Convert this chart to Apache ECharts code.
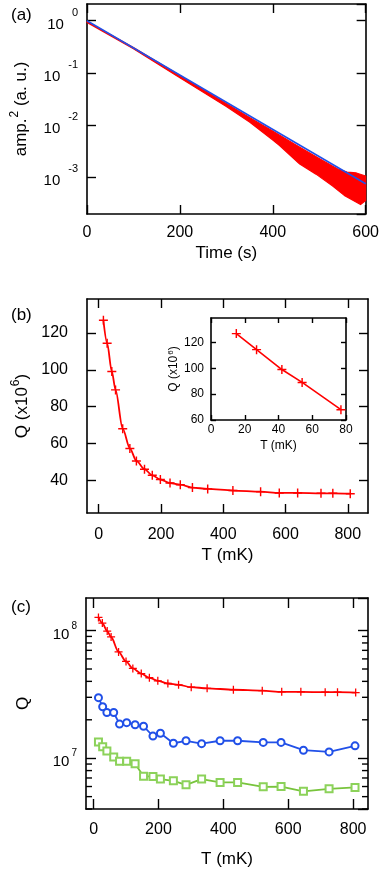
<!DOCTYPE html>
<html>
<head>
<meta charset="utf-8">
<script src="https://cdn.jsdelivr.net/npm/echarts@6/dist/echarts.min.js"></script>
<style>
  html, body { margin: 0; padding: 0; background: #fff; }
  #chart { width: 382px; height: 869px; }
</style>
</head>
<body>
<div id="chart"></div>
<script>
const fitTime = [0, 600];
const fitAmp = [1.0, 7.5e-4];
const traceUpperTime = [0, 100, 200, 300, 350, 400, 450, 500, 540, 560, 580, 600];
const traceUpper = [0.966, 0.307, 0.0891, 0.0259, 0.0140, 0.00771, 0.00416, 0.00229, 0.00144, 0.00126, 0.00121, 0.00106];
const traceLowerTime = [0, 100, 200, 300, 350, 400, 414, 458, 493, 529, 554, 589, 600];
const traceLower = [0.93, 0.29, 0.081, 0.0228, 0.0115, 0.0052, 0.0041, 0.0018, 0.00115, 0.00068, 0.00045, 0.0003, 0.00036];

// (b) Q vs T, red series (x10^6)
const tempRed = [15, 27, 42, 54, 77, 100, 121, 147, 172, 198, 229, 262, 301, 350, 431, 520, 580, 639, 714, 752, 808];
const qRed = [126.9, 114.5, 99.1, 89.1, 68.0, 57.3, 50.5, 46.0, 42.7, 40.4, 38.5, 37.6, 36.0, 35.3, 34.4, 33.8, 33.1, 33.1, 32.9, 32.9, 32.7];
const insetCount = 5;

// (c) other two modes
const tempBG = [15, 28, 41, 62, 80, 102, 128, 154, 183, 206, 246, 285, 333, 390, 444, 523, 578, 647, 726, 806];
const qBlue = [2.98e7, 2.53e7, 2.28e7, 2.28e7, 1.85e7, 1.90e7, 1.83e7, 1.78e7, 1.49e7, 1.57e7, 1.31e7, 1.37e7, 1.30e7, 1.37e7, 1.37e7, 1.33e7, 1.33e7, 1.155e7, 1.12e7, 1.25e7];
const qGreen = [1.34e7, 1.23e7, 1.14e7, 1.02e7, 9.48e6, 9.48e6, 9.03e6, 7.23e6, 7.19e6, 6.86e6, 6.65e6, 6.19e6, 6.86e6, 6.46e6, 6.46e6, 5.97e6, 6.0e6, 5.5e6, 5.76e6, 5.9e6];

// ticks
const ticksTime = [0, 200, 400, 600];
const ticksT = [0, 200, 400, 600, 800];
const ticksQ = [40, 60, 80, 100, 120];
const ticksInsetT = [0, 20, 40, 60, 80];
const ticksInsetQ = [60, 80, 100, 120];
const minorTicksC = [4e6, 5e6, 6e6, 7e6, 8e6, 9e6, 2e7, 3e7, 4e7, 5e7, 6e7, 7e7, 8e7, 9e7];

const FONT = '"Liberation Sans", Arial, sans-serif';
const RED = '#ff0000';
const BLUE = '#2150e8';
const GREEN = '#78c43c';
const AXIS_W = 1.6;

const cXMin = -23.4, cXMax = 846;

const chart = echarts.init(document.getElementById('chart'), null, { renderer: 'canvas' });

const zip = (xs, ys) => xs.map((x, i) => [x, ys[i]]);
const plusPath = 'path://M4.2,0H5.8V4.2H10V5.8H5.8V10H4.2V5.8H0V4.2H4.2Z';

function powLabel(sz, supSz, gap, supRaise) {
  return {
    formatter: (v) => {
      const e = Math.log10(v);
      const r = Math.round(e);
      if (Math.abs(e - r) > 1e-6) return '';
      return '{b|10}{s|' + r + '}';
    },
    rich: {
      b: { fontSize: sz, fontFamily: FONT, color: '#000', padding: [8, 0, 0, 0] },
      s: { fontSize: supSz, fontFamily: FONT, color: '#000', padding: [0, 0, supRaise, gap] }
    }
  };
}

function axisBase(type, grid, pos, min, max, ticks, tickLen, labelOpt) {
  const ax = {
    type: type, gridIndex: grid, position: pos, min: min, max: max,
    axisLine: { show: true, onZero: false, lineStyle: { color: '#000', width: AXIS_W } },
    axisTick: { show: true, inside: true, length: tickLen, lineStyle: { color: '#000', width: 1.4 } },
    axisLabel: { show: false },
    splitLine: { show: false },
    minorTick: { show: false }
  };
  if (ticks) {
    ax.axisTick.customValues = ticks;
  }
  if (labelOpt) {
    ax.axisLabel = Object.assign({ show: true, color: '#000', fontFamily: FONT }, labelOpt);
    if (ticks) ax.axisLabel.customValues = ticks;
  }
  return ax;
}

const nameStyle = (size, raise) => ({
  fontSize: size, fontFamily: FONT, color: '#000',
  rich: { s: { fontSize: Math.round(size * 0.7), fontFamily: FONT, color: '#000', padding: [0, 0, raise, 1] } }
});

const xAxes = [
  // (a)
  Object.assign(axisBase('value', 0, 'bottom', 0, 600, ticksTime, 9, { fontSize: 16, margin: 11 }),
    { name: 'Time (s)', nameLocation: 'middle', nameGap: 31, nameTextStyle: nameStyle(17, 12) }),
  axisBase('value', 0, 'top', 0, 600, ticksTime, 9),
  // (b)
  Object.assign(axisBase('value', 1, 'bottom', -37.7, 865, ticksT, 9, { fontSize: 16, margin: 14 }),
    { name: 'T (mK)', nameLocation: 'middle', nameGap: 34, nameTextStyle: nameStyle(17, 12) }),
  axisBase('value', 1, 'top', -37.7, 865, ticksT, 9),
  // inset
  Object.assign(axisBase('value', 2, 'bottom', 0, 80, ticksInsetT, 5, { fontSize: 12, margin: 4 }),
    { name: 'T (mK)', nameLocation: 'middle', nameGap: 20, nameTextStyle: nameStyle(12, 6) }),
  axisBase('value', 2, 'top', 0, 80, ticksInsetT, 5),
  // (c)
  Object.assign(axisBase('value', 3, 'bottom', cXMin, cXMax, ticksT, 10, { fontSize: 16, margin: 13 }),
    { name: 'T (mK)', nameLocation: 'middle', nameGap: 42, nameTextStyle: nameStyle(17, 12) }),
  axisBase('value', 3, 'top', cXMin, cXMax, ticksT, 10)
];

const yAxes = [
  // (a)
  Object.assign(axisBase('log', 0, 'left', 1.98e-4, 2.09, null, 9,
      Object.assign({ margin: 9, showMinLabel: false, showMaxLabel: false }, powLabel(15, 11, 8, 16))),
    { logBase: 10, name: 'amp.{s|2} (a. u.)', nameLocation: 'middle', nameGap: 54, nameTextStyle: nameStyle(17, 12) }),
  Object.assign(axisBase('log', 0, 'right', 1.98e-4, 2.09, null, 9), { logBase: 10 }),
  // (b)
  Object.assign(axisBase('value', 1, 'left', 22.2, 138.5, ticksQ, 9, { fontSize: 16, margin: 19 }),
    { name: 'Q (x10{s|6})', nameLocation: 'middle', nameGap: 52, nameTextStyle: nameStyle(17, 12) }),
  axisBase('value', 1, 'right', 22.2, 138.5, ticksQ, 9),
  // inset
  Object.assign(axisBase('value', 2, 'left', 60, 139, ticksInsetQ, 5, { fontSize: 12, margin: 7 }),
    { name: 'Q (x10{s|6})', nameLocation: 'middle', nameGap: 29, nameTextStyle: nameStyle(12, 6) }),
  axisBase('value', 2, 'right', 60, 139, ticksInsetQ, 5),
  // (c)
  Object.assign(axisBase('log', 3, 'left', 4.0e6, 1.80e8, null, 10,
      Object.assign({ margin: 9, showMinLabel: false, showMaxLabel: false }, powLabel(15, 10, 2, 9))),
    { logBase: 10, name: 'Q', nameLocation: 'middle', nameGap: 54, nameTextStyle: nameStyle(17, 12) }),
  Object.assign(axisBase('log', 3, 'right', 4.0e6, 1.80e8, null, 10), { logBase: 10 })
];

const panelTitle = { fontSize: 17, fontWeight: 'normal', fontFamily: FONT, color: '#000' };

const option = {
  animation: false,
  backgroundColor: '#fff',
  textStyle: { fontFamily: FONT },
  title: [
    { text: '(a)', left: 6, top: 2, textStyle: panelTitle },
    { text: '(b)', left: 6, top: 302, textStyle: panelTitle },
    { text: '(c)', left: 6, top: 594, textStyle: panelTitle }
  ],
  grid: [
    { left: 87, top: 4, width: 280, height: 210 },
    { left: 87, top: 299, width: 281, height: 214 },
    { left: 211, top: 318, width: 135, height: 102 },
    { left: 86, top: 598, width: 282, height: 212 }
  ],
  xAxis: xAxes,
  yAxis: yAxes,
  series: [
    // (a) noisy measured trace as a band
    {
      type: 'custom', xAxisIndex: 0, yAxisIndex: 0, z: 2,
      data: [[0, 1]],
      renderItem: function (params, api) {
        const pts = [];
        traceUpperTime.forEach((t, i) => pts.push(api.coord([t, traceUpper[i]])));
        for (let i = traceLowerTime.length - 1; i >= 0; i--) {
          pts.push(api.coord([traceLowerTime[i], traceLower[i]]));
        }
        return {
          type: 'polygon',
          shape: { points: pts },
          style: { fill: RED, stroke: RED, lineWidth: 1.2, lineJoin: 'round' }
        };
      }
    },
    {
      type: 'line', xAxisIndex: 0, yAxisIndex: 0, z: 3,
      data: zip(fitTime, fitAmp), showSymbol: false, symbol: 'none',
      lineStyle: { color: BLUE, width: 1.6 }
    },
    // (b)
    {
      type: 'line', xAxisIndex: 2, yAxisIndex: 2,
      data: zip(tempRed, qRed), smooth: 0.3, smoothMonotone: 'x',
      symbol: plusPath, symbolSize: 9,
      itemStyle: { color: RED }, lineStyle: { color: RED, width: 1.8 }
    },
    // inset
    {
      type: 'line', xAxisIndex: 4, yAxisIndex: 4,
      data: zip(tempRed.slice(0, insetCount), qRed.slice(0, insetCount)),
      symbol: plusPath, symbolSize: 9,
      itemStyle: { color: RED }, lineStyle: { color: RED, width: 1.6 }
    },
    // (c)
    {
      type: 'line', xAxisIndex: 6, yAxisIndex: 6,
      data: zip(tempRed, qRed.map(q => q * 1e6)), smooth: 0.3, smoothMonotone: 'x',
      symbol: plusPath, symbolSize: 8,
      itemStyle: { color: RED }, lineStyle: { color: RED, width: 1.8 }
    },
    {
      type: 'line', xAxisIndex: 6, yAxisIndex: 6,
      data: zip(tempBG, qBlue),
      symbol: 'emptyCircle', symbolSize: 7,
      itemStyle: { color: BLUE, borderColor: BLUE, borderWidth: 1.2 }, lineStyle: { color: BLUE, width: 1.8 }
    },
    {
      type: 'line', xAxisIndex: 6, yAxisIndex: 6,
      data: zip(tempBG, qGreen),
      symbol: 'emptyRect', symbolSize: 7,
      itemStyle: { color: '#8cd25a', borderColor: '#8cd25a', borderWidth: 1.2 }, lineStyle: { color: GREEN, width: 1.8 }
    },
    // (c) minor log ticks on left and right frame
    {
      type: 'custom', xAxisIndex: 6, yAxisIndex: 6, z: 5, silent: true,
      data: minorTicksC.map(v => [cXMin, v]),
      renderItem: function (params, api) {
        const v = api.value(1);
        const l = api.coord([cXMin, v]);
        const r = api.coord([cXMax, v]);
        return {
          type: 'group',
          children: [
            { type: 'line', shape: { x1: l[0], y1: l[1], x2: l[0] + 6, y2: l[1] }, style: { stroke: '#000', lineWidth: 1.4 } },
            { type: 'line', shape: { x1: r[0], y1: r[1], x2: r[0] - 6, y2: r[1] }, style: { stroke: '#000', lineWidth: 1.4 } }
          ]
        };
      }
    }
  ]
};

chart.setOption(option);
</script>
</body>
</html>
